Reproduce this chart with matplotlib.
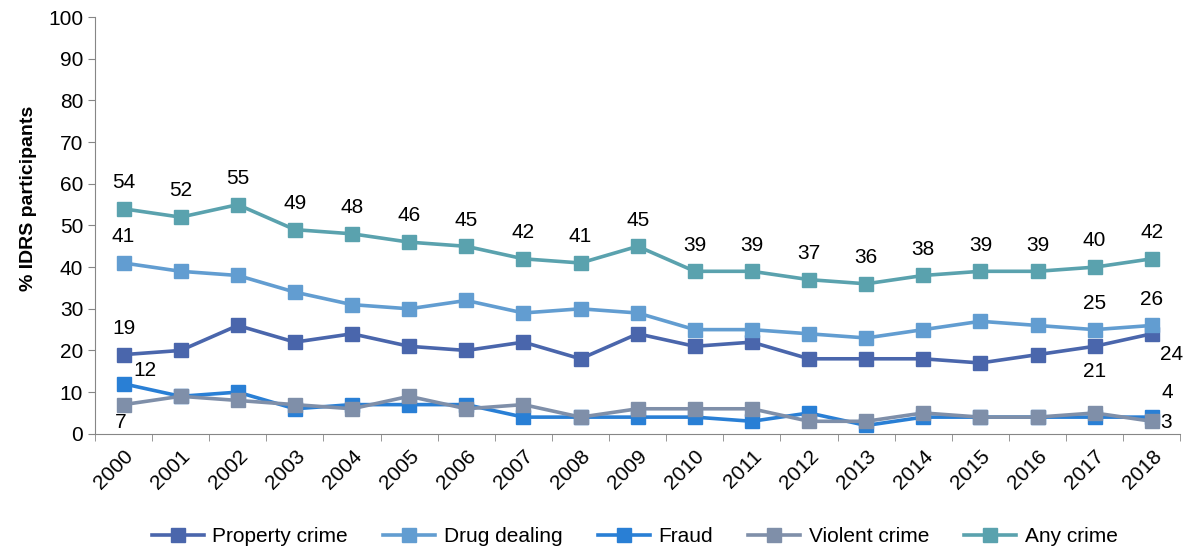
import matplotlib
matplotlib.use("Agg")
import numpy as np
from matplotlib import pyplot as plt

years = [str(y) for y in range(2000, 2019)]
property_crime = [19, 20, 26, 22, 24, 21, 20, 22, 18, 24, 21, 22, 18, 18, 18, 17, 19, 21, 24]
drug_dealing = [41, 39, 38, 34, 31, 30, 32, 29, 30, 29, 25, 25, 24, 23, 25, 27, 26, 25, 26]
fraud = [12, 9, 10, 6, 7, 7, 7, 4, 4, 4, 4, 3, 5, 2, 4, 4, 4, 4, 4]
violent_crime = [7, 9, 8, 7, 6, 9, 6, 7, 4, 6, 6, 6, 3, 3, 5, 4, 4, 5, 3]
any_crime = [54, 52, 55, 49, 48, 46, 45, 42, 41, 45, 39, 39, 37, 36, 38, 39, 39, 40, 42]

plt.rcParams["font.family"] = ["Liberation Sans", "DejaVu Sans"]

fig = plt.figure(figsize=(12.02, 5.54), dpi=100)
ax = fig.add_axes([0.079, 0.217, 0.903, 0.752])

x = np.arange(len(years))
series = [
    ("Property crime", property_crime, "#4A66AC"),
    ("Drug dealing", drug_dealing, "#629DD1"),
    ("Fraud", fraud, "#297FD5"),
    ("Violent crime", violent_crime, "#7F8FA9"),
    ("Any crime", any_crime, "#5AA2AE"),
]
for name, vals, col in series:
    ax.plot(x, vals, color=col, lw=2.6, marker="s", markersize=9.5, label=name)

fs = 15


def label(vals, i, dx, dy, ha="center", va="bottom"):
    ax.annotate(str(vals[i]), (x[i], vals[i]), xytext=(dx, dy),
                textcoords="offset points", ha=ha, va=va, fontsize=fs)


for i in range(len(years)):
    label(any_crime, i, 0, 12)
for i in [0, 17, 18]:
    label(drug_dealing, i, 0, 12)
label(property_crime, 0, 0, 12)
label(property_crime, 17, 0, -11, va="top")
label(property_crime, 18, 6, -8, ha="left", va="top")
label(fraud, 0, 7, 3, ha="left")
label(fraud, 18, 7, 11, ha="left")
label(violent_crime, 0, -2, -6, va="top")
label(violent_crime, 18, 6, -1, ha="left", va="center")

ax.set_xlim(-0.5, len(years) - 0.5)
ax.set_ylim(0, 100)
ax.set_yticks(range(0, 101, 10))
ax.set_xticks(x)
ax.set_xticklabels(years, rotation=45, ha="right", rotation_mode="anchor", fontsize=15)
ax.set_xticks(np.arange(-0.5, len(years)), minor=True)
ax.tick_params(axis="x", which="major", length=0, pad=9)
ax.tick_params(axis="x", which="minor", length=5, color="#868686")
ax.tick_params(axis="y", labelsize=15, length=5, color="#868686")
for s in ["top", "right"]:
    ax.spines[s].set_visible(False)
for s in ["left", "bottom"]:
    ax.spines[s].set_color("#868686")
ax.set_ylabel("% IDRS participants", fontsize=14, fontweight="bold")
ax.yaxis.set_label_coords(-0.053, 0.564)

fig.legend(loc="lower center", bbox_to_anchor=(0.528, -0.02), ncol=5, frameon=False,
           fontsize=15, handlelength=2.5, handletextpad=0.4, columnspacing=1.7)

plt.savefig("out.png", dpi=100)
plt.close()
